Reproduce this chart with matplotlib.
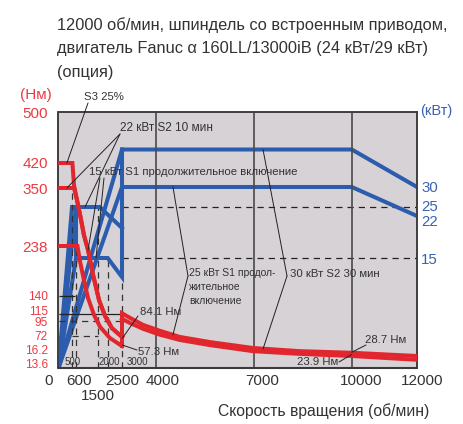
import numpy as np
import matplotlib
matplotlib.use("Agg")
import matplotlib.pyplot as plt
from matplotlib.transforms import ScaledTranslation, blended_transform_factory

plt.rcParams['font.family'] = ['Liberation Sans', 'DejaVu Sans']

# ---- data ----
rpm_ticks = [0, 600, 1500, 2500, 4000, 7000, 10000, 12000]
rpm_labels = ['0', '600', '', '2500', '4000', '7000', '10000', '12000']
nm_ticks = [13.6, 16.2, 72, 95, 115, 140, 238, 350, 420, 500]
nm_labels = ['13.6', '16.2', '72', '95', '115', '140', '238', '350', '420', '500']
kw_ticks = [15, 22, 25, 30]

# torque, low-speed winding (rpm, Nm)
s3_rpm = [0, 510, 550, 640, 770, 930, 1100, 1310, 1570, 1870, 2150, 2500]
s3_nm = [420, 420, 358, 327, 298, 259, 230, 181, 134, 109, 84, 68]
s2_10_rpm = [0, 550, 640, 770, 930, 1100, 1310, 1570, 1870, 2150, 2500]
s2_10_nm = [350, 350, 327, 298, 259, 230, 181, 134, 109, 84, 68]
s1_lo_rpm = [0, 660, 770, 930, 1100, 1350, 1620, 2080, 2500]
s1_lo_nm = [238, 238, 207, 171, 137, 112, 86, 63, 29]

# torque, high-speed winding
s2_30_rpm = [2500, 2500, 2850, 3430, 4120, 4730, 5650, 6970, 8400, 10000, 12000]
s2_30_nm = [29, 116, 104, 89, 80, 68, 46, 20.5, 15.8, 15.5, 14.9]
s1_hi_rpm = [2500, 2850, 3430, 4120, 4730, 5650, 6970, 8400, 10000, 12000]
s1_hi_nm = [101, 92, 83, 74, 55, 33, 15.8, 15.3, 14.9, 14.2]

# power (rpm, kW)
p_lo_s2_rpm = [0, 500, 1600, 2500]
p_lo_s2_kw = [0, 25, 25, 20]
p_lo_s3_rpm = [0, 600, 600]
p_lo_s3_kw = [0, 25, 15]
p_lo_s1_rpm = [0, 600, 2000, 2500, 2500]
p_lo_s1_kw = [0, 15, 15, 12.4, 35]
p_hi_s2_rpm = [0, 2500, 10000, 12000]
p_hi_s2_kw = [0, 35, 35, 30]
p_hi_s1_rpm = [0, 2500, 10000, 12000]
p_hi_s1_kw = [0, 30, 30, 22]

# ---- piecewise scales of the drawing ----
X_BRK = [0, 500, 600, 1500, 2000, 2500, 4000, 12000]
X_POS = [58.5, 72, 76, 97.7, 107.7, 122, 156, 417]
Y_BRK = [0, 13.6, 16.2, 72, 95, 115, 140, 238, 350, 420, 500]
Y_POS = [0, 5, 19, 32, 47, 54, 72, 122, 180, 205, 256]
K_BRK = [0, 15, 22, 25, 30, 40]
K_POS = [0, 110, 152, 161, 181, 256]


def piecewise(brk, pos):
    return (lambda v: np.interp(v, brk, pos), lambda p: np.interp(p, pos, brk))


RED = '#e2262d'
RED_TXT = '#ec3a40'
BLUE = '#2b5cae'
BLUE_TXT = '#3962b0'
TXT = '#333333'
BG = '#d6d2d6'
W, H = 464, 424

fig = plt.figure(figsize=(W / 100, H / 100), dpi=100)
ax = fig.add_axes([58.5 / W, (H - 368) / H, (417 - 58.5) / W, 256 / H])
ax2 = ax.twinx()

ax.set_xscale('function', functions=piecewise(X_BRK, X_POS))
ax.set_yscale('function', functions=piecewise(Y_BRK, Y_POS))
ax2.set_yscale('function', functions=piecewise(K_BRK, K_POS))
ax.set_xlim(0, 12000)
ax.set_ylim(0, 500)
ax2.set_ylim(0, 40)

ax.set_zorder(2)
ax2.set_zorder(1)
ax.patch.set_visible(False)
ax2.patch.set_visible(True)
ax2.set_facecolor(BG)

for a in (ax, ax2):
    for s in a.spines.values():
        s.set_color('#3a3a3a')
        s.set_linewidth(1.1)
ax.spines['bottom'].set_linewidth(1.5)

# grid / guide lines
ax.vlines([4000, 7000, 10000], 0, 500, color='#4a4a4a', lw=1.2, zorder=1)
dash = (0, (5, 4))
ax2.hlines([25, 15], 2500, 12000, color='#222222', lw=0.9, linestyles=[dash], zorder=1)
ax.vlines([500], 0, 350, color='#333333', lw=0.9, linestyles=[dash], zorder=1)
ax.vlines([600], 0, 238, color='#333333', lw=0.9, linestyles=[dash], zorder=1)
ax2.vlines([1500], 0, 25, color='#333333', lw=0.9, linestyles=[dash], zorder=1)
ax2.vlines([2000], 0, 15, color='#333333', lw=0.9, linestyles=[dash], zorder=1)
ax2.vlines([2500], 0, 12.4, color='#333333', lw=0.9, linestyles=[dash], zorder=1)
ax.hlines([140], 0, 570, color='#222222', lw=0.9, zorder=1)
ax.hlines([115], 0, 2500, color='#222222', lw=0.9, zorder=1)
ax.hlines([95], 0, 2500, color='#333333', lw=0.9, linestyles=[dash], zorder=1)
ax.hlines([72], 500, 1500, color='#333333', lw=0.9, linestyles=[dash], zorder=1)

# power curves
for r, k in [(p_lo_s2_rpm, p_lo_s2_kw), (p_lo_s3_rpm, p_lo_s3_kw), (p_lo_s1_rpm, p_lo_s1_kw),
             (p_hi_s2_rpm, p_hi_s2_kw), (p_hi_s1_rpm, p_hi_s1_kw)]:
    ax2.plot(r, k, color=BLUE, lw=2.9, solid_joinstyle='miter', zorder=3)

# torque curves
for r, t in [(s3_rpm, s3_nm), (s2_10_rpm, s2_10_nm), (s1_lo_rpm, s1_lo_nm),
             (s2_30_rpm, s2_30_nm), (s1_hi_rpm, s1_hi_nm)]:
    ax.plot(r, t, color=RED, lw=2.9, solid_joinstyle='miter', zorder=4)

# ticks
ax.set_xticks(rpm_ticks, rpm_labels)
ax.set_yticks(nm_ticks, nm_labels)
ax2.set_yticks(kw_ticks, [str(k) for k in kw_ticks])
ax.minorticks_off()
ax2.minorticks_off()
ax.tick_params(axis='x', length=0, pad=4, labelsize=11, labelcolor=TXT)
ax.tick_params(axis='y', length=0, pad=7.5, labelsize=11, labelcolor=RED_TXT)
ax2.tick_params(axis='y', length=0, pad=3, labelsize=10.8, labelcolor=BLUE_TXT)
for lab in ax.get_yticklabels():
    if lab.get_text() in ('140', '115', '95', '72', '16.2', '13.6'):
        lab.set_fontsize(8.6)

# second-row label for 1500
xb = blended_transform_factory(ax.transData, ax.transAxes)
ax.text(1500, -0.11, '1500', transform=xb, fontsize=11, color=TXT, ha='center', va='center')


def shift(lab, dx, dy):
    lab.set_transform(lab.get_transform() + ScaledTranslation(dx / 100, dy / 100, fig.dpi_scale_trans))


xoff = {'0': -10, '600': 3, '4000': 7, '7000': 8, '10000': 9, '12000': 5}
for lab in ax.get_xticklabels():
    if lab.get_text() in xoff:
        shift(lab, xoff[lab.get_text()], 0)
for lab in ax.get_yticklabels():
    if lab.get_text() == '115':
        shift(lab, 0, 3.5)
for lab in ax2.get_yticklabels():
    if lab.get_text() == '22':
        shift(lab, 0, -4)
    elif lab.get_text() == '25':
        shift(lab, 0, 1.5)


def fp(x, y):
    return (x / W, 1 - y / H)


# titles and axis names
title = ['12000 об/мин, шпиндель со встроенным приводом,',
         'двигатель Fanuc \u03b1 160LL/13000iB (24 кВт/29 кВт)',
         '(опция)']
for i, line in enumerate(title):
    fig.text(*fp(57, 30 + 23.5 * i), line, fontsize=11.8, color=TXT, va='baseline')
fig.text(*fp(52, 95), '(Нм)', fontsize=11, color=RED_TXT, ha='right', va='center')
fig.text(*fp(420, 111), '(кВт)', fontsize=10.5, color=BLUE_TXT, ha='left', va='center')
fig.text(*fp(218, 416), 'Скорость вращения (об/мин)', fontsize=11.3, color=TXT, va='baseline')

# small speed labels
for x, s in [(72.5, '500'), (109, '2000'), (137, '3000')]:
    fig.text(*fp(x, 362), s, fontsize=7, color=TXT, ha='center', va='center', zorder=5)

# annotations
AF = 8.2
lead = dict(arrowstyle='-', lw=0.7, color='#222222', shrinkA=0, shrinkB=0)


def leader(a, xy, start):
    a.annotate('', xy=xy, xycoords='data', xytext=fp(*start), textcoords='figure fraction',
               arrowprops=lead, zorder=6)


fig.text(*fp(84, 97), 'S3 25%', fontsize=AF, color=TXT, va='center')
leader(ax, (310, 420), (88, 103))

fig.text(*fp(120, 128), '22 кВт S2 10 мин', fontsize=8.5, color=TXT, va='center')
leader(ax, (310, 350), (120, 134))
leader(ax2, (975, 25), (120, 134))

fig.text(*fp(89, 172), '15 кВт S1 продолжительное включение', fontsize=AF, color=TXT, va='center')
leader(ax, (1100, 230), (100, 178))
leader(ax2, (1430, 15), (104, 178))

fig.text(*fp(189, 268), '25 кВт S1 продол-\nжительное\nвключение', fontsize=7.5, color=TXT,
         va='top', linespacing=1.5)
leader(ax2, (4520, 30), (188, 276))
leader(ax, (4520, 74), (188, 276))

fig.text(*fp(290, 274), '30 кВт S2 30 мин', fontsize=AF, color=TXT, va='center')
leader(ax2, (7280, 35), (287, 276))
leader(ax, (7280, 16.2), (287, 276))

fig.text(*fp(140, 312), '84.1 Нм', fontsize=AF, color=TXT, va='center')
leader(ax, (2520, 63), (138, 316))
fig.text(*fp(138, 352), '57.3 Нм', fontsize=AF, color=TXT, va='center')
leader(ax, (2520, 33), (137, 350))
fig.text(*fp(365, 340), '28.7 Нм', fontsize=AF, color=TXT, va='center')
leader(ax, (10000, 15.6), (366, 345))
fig.text(*fp(338, 362), '23.9 Нм', fontsize=AF, color=TXT, ha='right', va='center')
leader(ax, (10000, 15.2), (339, 362))

fig.savefig('out.png', dpi=100)
